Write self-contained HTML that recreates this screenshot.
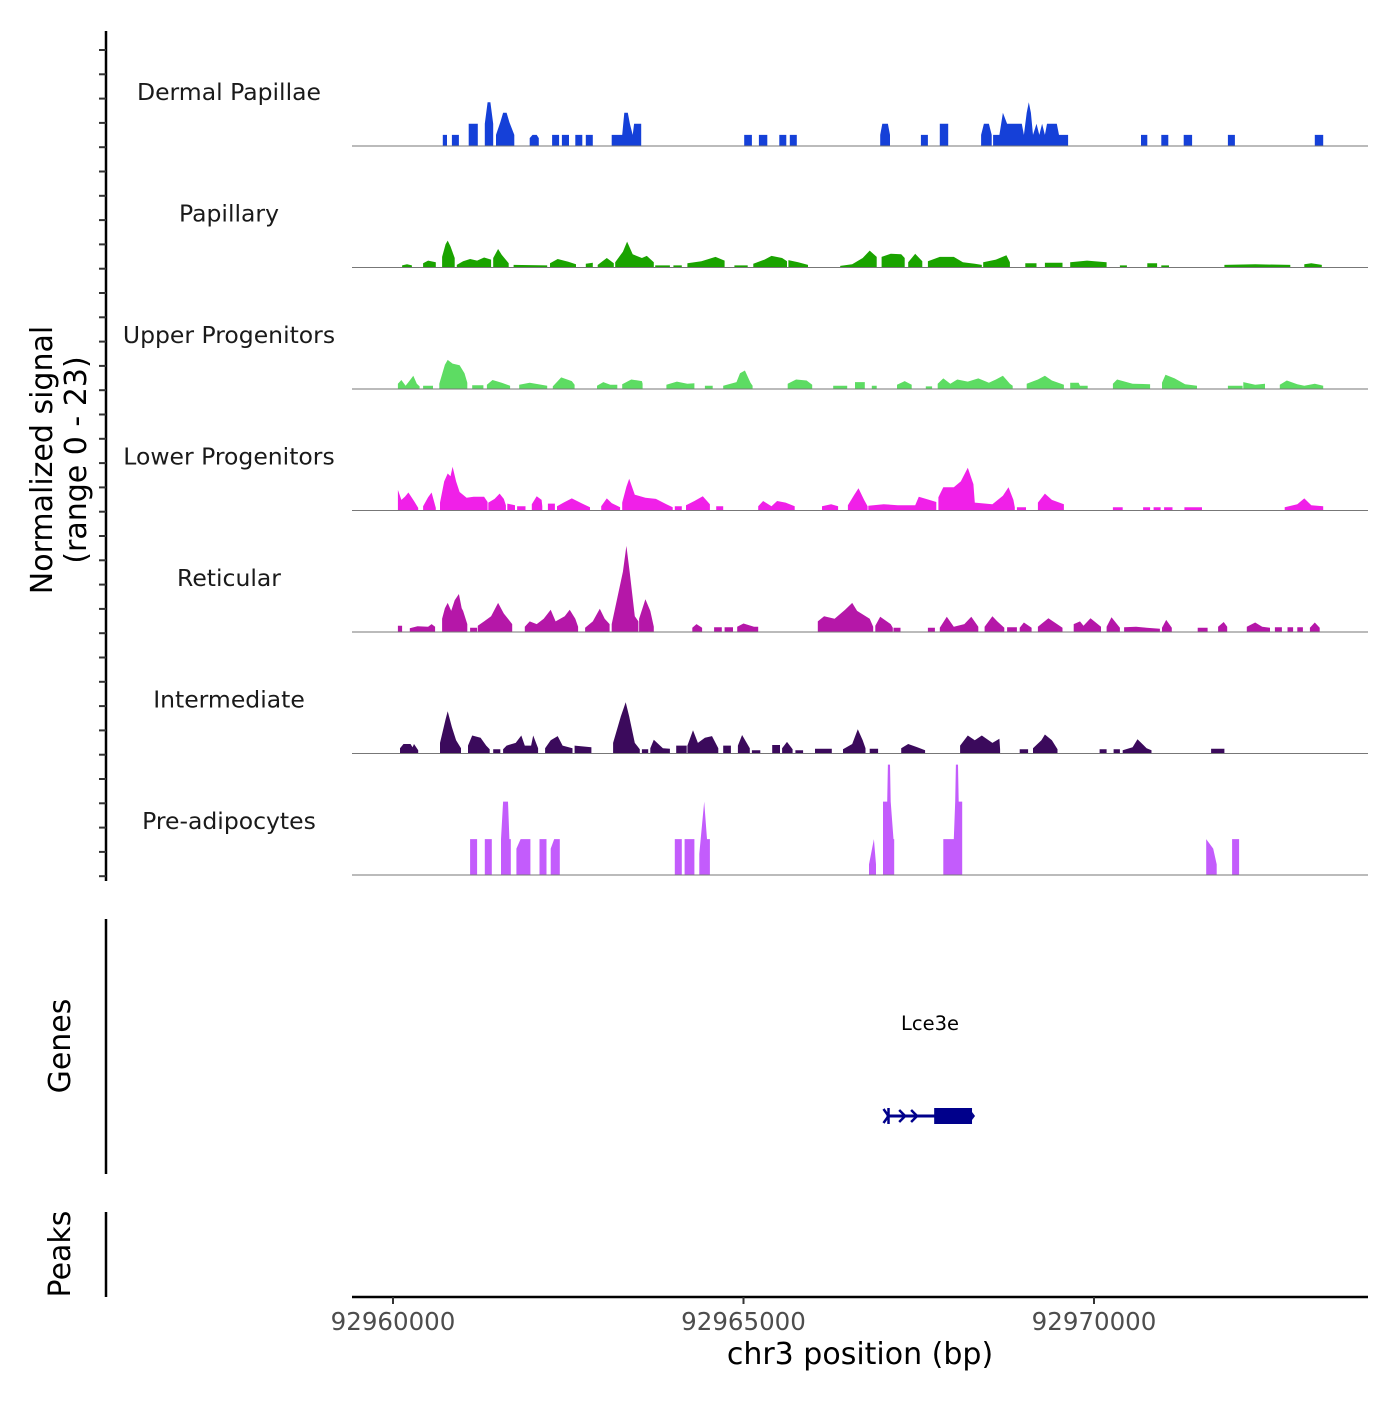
<!DOCTYPE html>
<html><head><meta charset="utf-8"><style>
body{margin:0;background:#fff}
svg text{font-family:"DejaVu Sans","Liberation Sans",sans-serif}
</style></head><body>
<svg id="chart" width="1400" height="1400" viewBox="0 0 1400 1400" xmlns="http://www.w3.org/2000/svg">
<g id="tracks"></g>
<g id="axes"></g>
</svg>
<script>
const trackNames = ["Dermal Papillae","Papillary","Upper Progenitors","Lower Progenitors","Reticular","Intermediate","Pre-adipocytes"];
const trackColors = ["#1540d8","#1aa300","#5ddc63","#f020e8","#b517a8","#3b0a5c","#c35cfc"];
const xTickValues = [92960000, 92965000, 92970000];
const xTickLabels = ["92960000","92965000","92970000"];
const signalRange = [0, 23];
// islands: [kbOffset, value, kbOffset, value, ...] (kb from 92960000)
const dermal = [
[0.71,2.1,0.77,2.1],[0.84,2.1,0.94,2.1],[1.08,4.2,1.21,4.2],[1.31,4.2,1.35,8.3,1.39,8.3,1.43,4.2],
[1.47,2.1,1.53,4.5,1.57,6.3,1.62,6.3,1.66,4.5,1.73,2.1],[1.95,1.5,1.99,2.1,2.05,2.1,2.08,1.5],
[2.27,2.1,2.37,2.1],[2.41,2.1,2.51,2.1],[2.60,2.1,2.70,2.1],[2.75,2.1,2.85,2.1],
[3.12,2.1,3.27,2.1,3.30,6.3,3.35,6.3,3.38,4.2,3.42,2.1,3.44,4.2,3.54,4.2],
[5.01,2.1,5.12,2.1],[5.22,2.1,5.34,2.1],[5.51,2.1,5.61,2.1],[5.66,2.1,5.76,2.1],
[6.95,2.1,6.98,4.2,7.06,4.2,7.09,2.1],[7.53,2.1,7.63,2.1],[7.80,4.2,7.92,4.2],
[8.39,2.1,8.43,4.2,8.50,4.2,8.54,2.1],
[8.56,2.1,8.65,2.1,8.70,6.3,8.76,4.2,8.80,4.2,8.97,4.2,9.00,2.1,9.04,6.3,9.07,8.3,9.10,6.3,9.13,2.1,9.18,4.2,9.22,2.1,9.26,4.2,9.30,2.1,9.33,4.2,9.47,4.2,9.50,2.1,9.63,2.1],
[10.67,2.1,10.76,2.1],[10.96,2.1,11.06,2.1],[11.28,2.1,11.40,2.1],[11.91,2.1,12.01,2.1],[13.15,2.1,13.27,2.1]];
const papillary = [
[0.13,0.4,0.20,0.6,0.27,0.4],[0.43,0.8,0.50,1.3,0.61,1.0],[0.70,2.0,0.75,4.4,0.78,5.1,0.82,4.0,0.88,1.8],
[0.91,0.5,1.00,1.2,1.10,1.6,1.20,1.3,1.30,1.9,1.40,1.5],[1.43,1.8,1.50,3.5,1.55,2.4,1.65,0.8],
[1.72,0.5,2.20,0.4],[2.24,0.8,2.35,1.6,2.50,1.1,2.61,0.6],[2.75,0.7,2.85,0.9],[2.92,0.5,3.05,1.8,3.15,0.8],
[3.17,1.0,3.28,3.0,3.34,4.9,3.42,2.5,3.55,1.8,3.62,2.2,3.72,1.0],[3.74,0.4,3.95,0.4],[4.0,0.4,4.12,0.4],
[4.20,0.8,4.40,1.2,4.60,2.0,4.73,1.3],[4.87,0.4,5.06,0.4],[5.14,0.7,5.30,1.5,5.40,2.2,5.55,1.8,5.62,1.2],
[5.64,1.4,5.78,1.0,5.92,0.5],[6.38,0.3,6.55,0.6,6.70,1.8,6.80,3.2,6.90,2.0],[6.97,2.0,7.10,2.6,7.25,2.5,7.30,1.8],
[7.35,1.0,7.45,2.6,7.55,1.2],[7.63,1.2,7.80,2.0,8.00,2.0,8.13,1.0,8.30,0.7,8.40,0.5],[8.42,1.0,8.60,1.5,8.75,2.3,8.80,1.0],
[9.02,0.8,9.18,0.8],[9.30,0.9,9.55,0.9],[9.66,1.0,9.90,1.3,10.18,1.0],[10.37,0.4,10.47,0.4],[10.76,0.8,10.90,0.8],
[10.96,0.4,11.07,0.4],[11.86,0.5,12.30,0.6,12.80,0.5],[13.00,0.6,13.10,0.8,13.25,0.5]];
const upperProg = [
[0.07,1.0,0.12,1.7,0.18,0.6,0.25,1.8,0.29,2.5,0.34,1.0,0.38,0.5],[0.43,0.6,0.57,0.6],
[0.66,1.0,0.74,4.6,0.78,5.5,0.85,4.8,0.95,4.5,1.02,3.0,1.06,1.2],[1.13,0.7,1.29,0.7],
[1.34,0.8,1.42,1.7,1.55,1.2,1.67,0.6],[1.80,0.8,1.95,1.2,2.20,0.6],[2.28,0.5,2.40,2.2,2.55,1.5,2.59,0.8],
[2.91,0.6,3.00,1.3,3.10,0.8,3.20,0.8],[3.27,0.9,3.40,1.8,3.55,1.5,3.56,1.0],[3.90,0.8,4.05,1.4,4.20,1.0,4.30,1.1],
[4.45,0.6,4.56,0.6],[4.71,0.6,4.90,1.3,4.95,3.0,5.02,3.5,5.10,1.2,5.13,0.6],[5.63,1.0,5.75,1.8,5.90,1.6,5.98,0.8],
[6.28,0.6,6.48,0.6],[6.59,1.3,6.73,1.3],[6.83,0.6,6.90,0.6],[7.19,0.8,7.30,1.5,7.40,0.8],[7.60,0.5,7.69,0.5],
[7.77,1.0,7.85,2.0,7.95,1.0,8.05,1.8,8.20,1.4,8.35,2.0,8.50,1.2,8.60,1.8,8.70,2.5,8.80,1.0,8.84,0.6],
[9.04,1.0,9.20,1.8,9.30,2.5,9.40,1.6,9.57,0.8],[9.66,1.2,9.78,1.2,9.80,0.6,9.91,0.6],
[10.27,1.0,10.33,1.8,10.55,1.0,10.80,0.9],[10.97,1.2,11.02,2.7,11.15,2.0,11.30,0.9,11.47,0.6],
[11.91,0.6,12.12,0.6],[12.13,1.3,12.30,0.8,12.44,1.0],[12.65,0.8,12.75,1.6,12.90,0.9,13.00,0.6,13.15,1.0,13.27,0.6]];
const lowerProg = [
[0.07,3.9,0.12,2.0,0.17,2.6,0.22,3.4,0.30,1.8,0.36,0.5],[0.43,0.8,0.50,2.5,0.55,3.4,0.61,0.5],
[0.67,1.5,0.73,5.5,0.78,7.0,0.82,6.5,0.85,8.3,0.90,5.5,0.95,3.5,1.05,2.4,1.15,2.6,1.30,2.6,1.35,1.6],
[1.36,1.5,1.45,2.2,1.52,3.2,1.58,2.2,1.61,1.0],[1.63,1.3,1.74,1.0],[1.77,0.8,1.89,0.8],
[1.98,1.2,2.05,2.7,2.12,2.0,2.13,0.8],[2.21,1.3,2.31,1.3],[2.34,0.8,2.45,1.6,2.55,2.3,2.70,1.3,2.81,0.6],
[2.97,0.8,3.05,2.3,3.12,1.4,3.24,0.6],[3.27,1.5,3.33,4.5,3.37,6.0,3.45,3.0,3.60,2.4,3.75,2.2,3.90,1.2,3.99,0.6],
[4.02,0.8,4.12,0.8],[4.18,1.0,4.30,1.8,4.42,2.7,4.52,1.2],[4.61,0.8,4.71,0.8],
[5.21,0.8,5.28,1.8,5.40,0.8,5.48,1.8,5.60,1.5,5.73,0.8],[6.12,0.8,6.25,1.2,6.35,0.8],
[6.49,1.0,6.58,3.0,6.64,4.2,6.72,2.0,6.77,0.8],[6.78,0.9,7.00,1.2,7.20,1.0,7.45,1.0,7.50,2.6,7.65,2.0,7.75,1.6],
[7.78,2.5,7.85,4.4,8.00,4.4,8.10,5.5,8.20,8.1,8.28,5.0,8.30,1.5,8.55,1.2,8.70,2.8,8.78,4.4,8.85,2.0,8.87,0.6],
[8.90,0.6,9.03,0.6],[9.20,1.5,9.30,3.2,9.40,2.0,9.57,1.2],[10.27,0.6,10.41,0.6],[10.70,0.6,10.80,0.6],
[10.85,0.6,10.95,0.6],[11.00,0.6,11.12,0.6],[11.29,0.6,11.54,0.6],[12.72,0.6,12.90,1.2,13.00,2.3,13.10,1.0,13.27,0.8]];
const reticular = [
[0.07,1.2,0.13,1.2],[0.24,0.7,0.35,1.1,0.50,1.0,0.55,1.5,0.60,1.0],
[0.70,2.5,0.74,4.5,0.78,5.5,0.83,4.0,0.88,6.0,0.94,7.2,0.98,4.5,1.00,4.0,1.06,1.5],[1.10,0.8,1.20,0.8],
[1.21,1.2,1.30,2.0,1.40,3.0,1.50,5.5,1.58,3.5,1.70,1.5],
[1.88,1.0,1.95,2.0,2.05,1.5,2.15,2.5,2.25,4.2,2.32,2.0,2.45,3.0,2.52,4.2,2.60,2.5,2.64,1.0],
[2.74,0.8,2.85,2.0,2.95,4.4,3.02,2.5,3.09,1.5],[3.12,1.5,3.28,11.4,3.33,16.3,3.38,11.0,3.45,3.0,3.50,2.0],
[3.51,2.5,3.60,6.2,3.67,4.0,3.72,1.0],[4.27,0.8,4.33,1.5,4.41,0.8],[4.58,0.9,4.69,0.9],[4.73,0.9,4.85,0.9],
[4.91,1.0,5.00,1.6,5.15,1.0,5.21,1.0],[6.06,2.0,6.15,3.0,6.30,2.5,6.45,4.2,6.55,5.5,6.62,4.0,6.80,2.5,6.85,1.0],
[6.88,1.2,6.95,2.9,7.10,1.5,7.13,0.8],[7.14,0.8,7.24,0.8],[7.63,0.8,7.73,0.8],
[7.80,0.8,7.90,2.9,8.00,1.0,8.15,1.5,8.25,2.9,8.35,1.0],[8.44,1.0,8.55,3.0,8.62,2.0,8.72,0.8],[8.76,0.9,8.90,0.9],
[8.94,0.8,9.00,1.8,9.11,0.8],[9.20,1.0,9.35,2.6,9.55,0.8],[9.71,1.5,9.80,2.0,9.85,1.2,9.95,2.6,10.10,1.0],
[10.18,1.0,10.25,2.8,10.37,0.8],[10.43,0.9,10.60,1.0,10.75,0.8,10.94,0.6],[10.97,0.8,11.03,2.3,11.11,0.8],
[11.48,0.8,11.62,0.8],[11.77,1.0,11.85,1.9,11.90,1.0],[12.18,1.0,12.30,1.8,12.40,1.0,12.51,0.8],
[12.58,0.9,12.68,0.9],[12.76,0.9,12.84,0.9],[12.90,0.9,12.98,0.9],[13.08,0.8,13.15,1.8,13.22,0.8]];
const intermediate = [
[0.10,1.0,0.15,1.8,0.25,1.8,0.28,1.2,0.30,1.8,0.36,0.6],[0.67,2.0,0.75,6.5,0.78,8.0,0.84,5.0,0.90,2.5,0.97,1.0],
[1.07,1.5,1.13,3.4,1.25,3.0,1.33,1.5,1.38,0.8],[1.43,0.8,1.53,0.8],
[1.57,0.8,1.62,1.5,1.75,2.0,1.83,3.4,1.88,1.5,1.97,1.5,2.00,3.4,2.07,1.0],[2.17,1.0,2.25,2.5,2.35,3.3,2.42,1.5,2.56,1.0],
[2.59,1.5,2.83,1.2],[3.14,2.0,3.25,7.0,3.32,9.7,3.37,7.0,3.45,2.0,3.52,0.8],[3.55,0.8,3.64,0.8],
[3.67,1.0,3.72,2.6,3.85,1.0,3.95,0.9],[4.04,1.5,4.19,1.5],[4.20,1.5,4.28,4.4,4.35,2.0,4.45,3.0,4.55,3.3,4.64,1.0],
[4.71,1.5,4.82,1.5],[4.92,1.5,4.98,3.5,5.09,1.0],[5.12,0.6,5.24,0.6],[5.41,1.6,5.52,1.6],[5.55,1.0,5.62,2.2,5.70,0.8],
[5.74,0.6,5.85,0.6],[6.02,0.9,6.26,0.9],[6.42,0.8,6.55,1.8,6.63,4.6,6.70,2.5,6.74,1.0],[6.80,0.9,6.92,0.9],
[7.25,1.0,7.35,1.8,7.48,1.2,7.59,0.6],[8.09,1.5,8.20,3.4,8.30,2.5,8.40,3.4,8.55,2.0,8.65,2.8,8.66,0.8],
[8.94,0.8,9.06,0.8],[9.13,1.0,9.25,2.5,9.30,3.6,9.40,2.5,9.48,0.8],[10.08,0.8,10.18,0.8],[10.28,0.8,10.37,0.8],
[10.41,0.6,10.55,1.2,10.62,2.7,10.75,1.0,10.82,0.6],[11.67,0.9,11.86,0.9]];
const preAdipo = [
[1.10,6.8,1.20,6.8],[1.31,6.8,1.41,6.8],[1.54,6.8,1.57,13.9,1.64,13.9,1.66,6.8,1.68,6.8],
[1.76,5.0,1.82,6.8,1.96,6.8],[2.09,6.8,2.19,6.8],[2.25,5.0,2.30,6.8,2.38,6.8],
[4.02,6.8,4.12,6.8],[4.16,6.8,4.30,6.8],[4.37,4.0,4.44,13.9,4.48,6.8,4.52,6.8],
[6.79,2.0,6.86,6.8,6.89,2.0],[6.99,13.9,7.05,13.9,7.06,20.9,7.09,20.9,7.10,13.9,7.14,6.8,7.15,6.8],
[7.85,6.8,8.00,6.8,8.02,13.9,8.03,20.9,8.06,20.9,8.07,13.9,8.12,13.9],
[11.60,6.8,11.70,5.0,11.75,2.0],[11.97,6.8,12.07,6.8]];
const trackData = [dermal,papillary,upperProg,lowerProg,reticular,intermediate,preAdipo];
const geneName = "Lce3e";
const geneStart = 92967040, geneEnd = 92968260, geneCdsStart = 92967720;

const NS="http://www.w3.org/2000/svg";
const X0=352, X1=1368;
function xScale(bp){ return 393 + (bp-92960000)*350.5/5000; }
function xKb(kb){ return xScale(92960000 + kb*1000); }
const firstBase=146, trackH=121.5;
function yScale(v,i){ const b=firstBase+i*trackH; return b - (v-signalRange[0])/(signalRange[1]-signalRange[0])*trackH; }
function mk(tag,attrs,parent){ const e=document.createElementNS(NS,tag); for(const k in attrs) e.setAttribute(k,attrs[k]); parent.appendChild(e); return e; }
const tracks=document.getElementById('tracks'), axes=document.getElementById('axes');

trackData.forEach((islands,i)=>{
  const base=yScale(0,i);
  const g=mk('g',{},tracks);
  
  
  const lab=mk('text',{x:229,y:base-46,'text-anchor':'middle','font-size':'23.5','fill':'#1a1a1a'},g);
  lab.textContent=trackNames[i];
  
  
  let d='';
  islands.forEach(isl=>{
    d+='M'+xKb(isl[0]).toFixed(1)+','+base.toFixed(1);
    for(let k=0;k<isl.length;k+=2) d+='L'+xKb(isl[k]).toFixed(1)+','+yScale(isl[k+1],i).toFixed(1);
    d+='L'+xKb(isl[isl.length-2]).toFixed(1)+','+base.toFixed(1)+'Z';
  });
  const p=mk('path',{d:d,fill:trackColors[i]},g);
  
  
  const bl=mk('line',{x1:X0,x2:X1,y1:base,y2:base,stroke:'#777','stroke-width':1},g);
  
  
});

// left signal axis
const ya=mk('line',{x1:106,x2:106,y1:31,y2:881,stroke:'#000','stroke-width':2.5},axes);


for(let k=0;k<35;k++){
  const y=50+k*24.3;
  const t=mk('line',{x1:99,x2:106,y1:y,y2:y,stroke:'#333','stroke-width':2},axes);
  
  
}
const yt=mk('text',{transform:'translate(52,460) rotate(-90)','text-anchor':'middle','font-size':'30'},axes);


yt.innerHTML='<tspan x="0" dy="0">Normalized signal</tspan><tspan x="0" dy="34">(range 0 - 23)</tspan>';

// genes panel
const ga=mk('line',{x1:106,x2:106,y1:919,y2:1174,stroke:'#000','stroke-width':2.5},axes);


const gt=mk('text',{transform:'translate(70,1046) rotate(-90)','text-anchor':'middle','font-size':'30'},axes);
gt.textContent='Genes';


const gg=mk('g',{},axes);


const gs=xScale(geneStart), ge=xScale(geneEnd), gc=xScale(geneCdsStart);
mk('line',{x1:gs,x2:ge,y1:1116,y2:1116,stroke:'#00008b','stroke-width':3},gg);
mk('rect',{x:gc,y:1108,width:ge-gc,height:16,fill:'#00008b'},gg);
mk('path',{d:`M${gs-3},1109L${gs+2},1116L${gs-3},1123M${gs+2},1108L${gs+2},1124`,stroke:'#00008b','stroke-width':2.5,fill:'none'},gg);
[0.35,0.6].forEach(f=>{const ax=gs+(gc-gs)*f; mk('path',{d:`M${ax-4},1110L${ax+2},1116L${ax-4},1122`,stroke:'#00008b','stroke-width':2.5,fill:'none'},gg);});
mk('path',{d:`M${ge},1112L${ge+3},1116L${ge},1120Z`,fill:'#00008b'},gg);
const gl=mk('text',{x:930,y:1030,'text-anchor':'middle','font-size':'19.5'},gg);
gl.textContent=geneName;



// peaks panel
const pa=mk('line',{x1:106,x2:106,y1:1212,y2:1297,stroke:'#000','stroke-width':2.5},axes);


const pt=mk('text',{transform:'translate(70,1254) rotate(-90)','text-anchor':'middle','font-size':'30'},axes);
pt.textContent='Peaks';



// x axis
const xa=mk('line',{x1:X0,x2:X1,y1:1297,y2:1297,stroke:'#000','stroke-width':2.5},axes);


xTickValues.forEach((v,k)=>{
  const x=xScale(v);
  const t=mk('line',{x1:x,x2:x,y1:1297,y2:1304,stroke:'#333','stroke-width':2},axes);
  
  
  const l=mk('text',{x:x,y:1330,'text-anchor':'middle','font-size':'24.5','fill':'#4d4d4d'},axes);
  l.textContent=xTickLabels[k];
  
  
});
const xt=mk('text',{x:860,y:1364,'text-anchor':'middle','font-size':'30'},axes);
xt.textContent='chr3 position (bp)';


</script>
</body></html>
